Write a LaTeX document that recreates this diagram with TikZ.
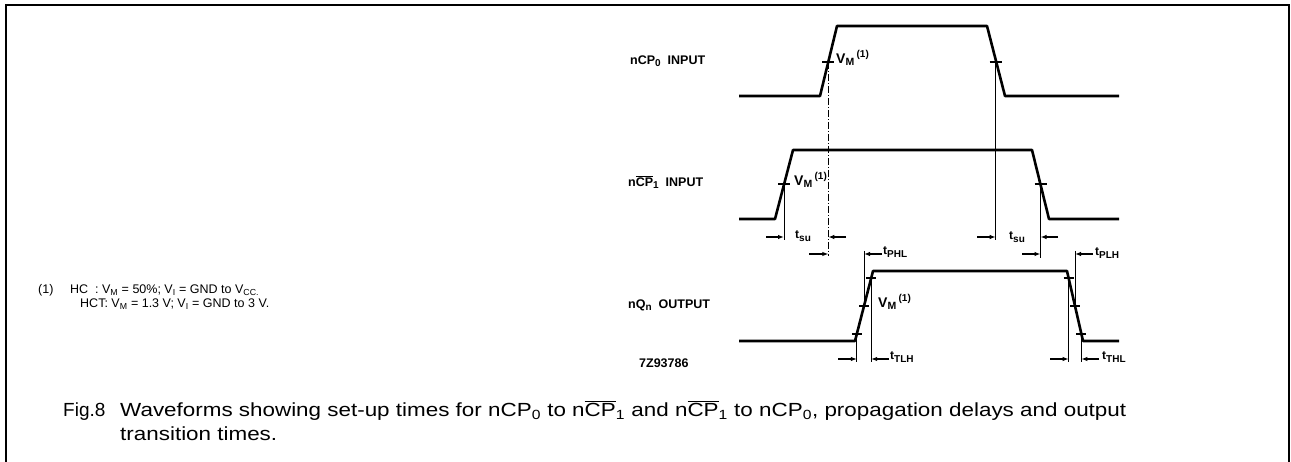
\documentclass[tikz,border=0pt]{standalone}
\usepackage{fontspec}
\usepackage{graphicx}
\setmainfont{Liberation Sans}
\usetikzlibrary{arrows.meta}
\newcommand{\mysb}[2][7.5]{\raisebox{-2.5pt}{\fontsize{#1}{#1}\selectfont #2}}
\newcommand{\myov}[1]{$\overline{\mbox{#1}}$}
\newcommand{\vmlabel}{V\mysb[10.5]{M}\,\raisebox{6pt}{\fontsize{10}{10}\selectfont (1)}}
\begin{document}
\begin{tikzpicture}[x=1pt,y=-1pt,
  wave/.style={line width=2.6pt, line join=round},
  guide/.style={line width=0.8pt},
  dguide/.style={line width=0.8pt, dash pattern=on 7pt off 2pt on 1pt off 2pt},
  vtick/.style={line width=1.3pt},
  marr/.style={-{Latex[length=6pt,width=4.5pt]}, line width=1.1pt},
  lbl/.style={font=\fontsize{12.5}{14}\selectfont\bfseries, inner sep=0pt, anchor=west},
  vlbl/.style={font=\fontsize{14}{16}\selectfont\bfseries, inner sep=0pt, anchor=west},
  tlbl/.style={font=\fontsize{12}{14}\selectfont\bfseries, inner sep=0pt, anchor=west},
  notetext/.style={font=\fontsize{12.5}{14}\selectfont, inner sep=0pt, anchor=base west},
  captext/.style={font=\fontsize{19}{22}\selectfont, inner sep=0pt, anchor=base west}]
\useasboundingbox (0,0) rectangle (1291,462);
% frame
\draw[line width=1.6pt] (6,470) -- (6,5) -- (1289,5) -- (1289,470);

% ---------- nCP0 ----------
\coordinate (a0) at (739,96);  \coordinate (a1) at (820,96);
\coordinate (a2) at (837,26);  \coordinate (a3) at (987,26);
\coordinate (a4) at (1005,96); \coordinate (a5) at (1119,96);
\draw[wave] (a0) -- (a1) -- (a2) -- (a3) -- (a4) -- (a5);
\coordinate (am1) at (828.3,62); \coordinate (am2) at (995.7,62);
\draw[vtick] ([xshift=-6pt]am1) -- ([xshift=6pt]am1);
\draw[vtick] ([xshift=-6pt]am2) -- ([xshift=6pt]am2);
\node[lbl] (l0) at (630,61) {nCP\mysb[10]{0}\ \ INPUT};
\node[vlbl] (v0) at (836,58) {\vmlabel};

% ---------- nCP1bar ----------
\coordinate (b0) at (739,219);  \coordinate (b1) at (775,219);
\coordinate (b2) at (793,150);  \coordinate (b3) at (1032,150);
\coordinate (b4) at (1049,219); \coordinate (b5) at (1119,219);
\draw[wave] (b0) -- (b1) -- (b2) -- (b3) -- (b4) -- (b5);
\coordinate (bm1) at (784,184); \coordinate (bm2) at (1040.5,184);
\draw[vtick] ([xshift=-6pt]bm1) -- ([xshift=6pt]bm1);
\draw[vtick] ([xshift=-6pt]bm2) -- ([xshift=6pt]bm2);
\node[lbl] (l1) at (628,182) {n\myov{CP}\mysb[10]{1}\ \ INPUT};
\node[vlbl] (v1) at (794,180) {\vmlabel};

% ---------- nQn ----------
\coordinate (c0) at (739,341);  \coordinate (c1) at (855,341);
\coordinate (c2) at (873,271);  \coordinate (c3) at (1067,271);
\coordinate (c4) at (1083,341); \coordinate (c5) at (1119,341);
\draw[wave] (c0) -- (c1) -- (c2) -- (c3) -- (c4) -- (c5);
\coordinate (cl1) at (856.8,334); \coordinate (cm1) at (864,306); \coordinate (ch1) at (871.2,278);
\coordinate (ch2) at (1068.6,278); \coordinate (cm2) at (1075,306); \coordinate (cl2) at (1081.4,334);
\foreach \p in {cl1,cm1,ch1,ch2,cm2,cl2}
  \draw[vtick] ([xshift=-5pt]\p) -- ([xshift=5pt]\p);
\node[lbl] (l2) at (628,305) {nQ\mysb[10]{n}\ \ OUTPUT};
\node[vlbl] (v2) at (878,302) {\vmlabel};
\node[lbl, font=\fontsize{12.5}{13}\selectfont\bfseries] (id) at (639,363) {7Z93786};

% ---------- guide lines ----------
\coordinate (g1) at (828.3,256);
\draw[dguide] (am1) -- (g1);
\coordinate (g2) at (995.7,240);
\draw[guide] (am2) -- (g2);
\coordinate (g3) at (784,240);
\draw[guide] (bm1) -- (g3);
\coordinate (g4) at (1040.5,258);
\draw[guide, line width=1.2pt] (bm2) -- (g4);
\coordinate (g5t) at (864,251);
\draw[guide] (g5t) -- (cm1);
\coordinate (g6t) at (1075,251);
\draw[guide] (g6t) -- (cm2);
\coordinate (g7) at (856.8,362); \draw[guide] (cl1) -- (g7);
\coordinate (g8) at (871.2,362); \draw[guide] (ch1) -- (g8);
\coordinate (g9) at (1068.6,362); \draw[guide] (ch2) -- (g9);
\coordinate (g10) at (1081.4,362); \draw[guide] (cl2) -- (g10);

% ---------- dimension arrows ----------
% t_su left
\coordinate (s1a) at (766,237); \coordinate (s1b) at (784,237);
\coordinate (s1c) at (846,237); \coordinate (s1d) at (828.3,237);
\draw[marr] (s1a) -- (s1b); \draw[marr] (s1c) -- (s1d);
\node[tlbl] (tsu1) at (795,236) {t\mysb[10]{su}};
% t_su right
\coordinate (s2a) at (977,237); \coordinate (s2b) at (995.7,237);
\coordinate (s2c) at (1058,237); \coordinate (s2d) at (1040.5,237);
\draw[marr] (s2a) -- (s2b); \draw[marr] (s2c) -- (s2d);
\node[tlbl] (tsu2) at (1009,237) {t\mysb[10]{su}};
% t_PHL
\coordinate (p1a) at (809,254); \coordinate (p1b) at (828.3,254);
\coordinate (p1c) at (882,254); \coordinate (p1d) at (864,254);
\draw[marr] (p1a) -- (p1b); \draw[marr] (p1c) -- (p1d);
\node[tlbl] (tphl) at (883,252) {t\mysb[10]{PHL}};
% t_PLH
\coordinate (p2a) at (1022,254); \coordinate (p2b) at (1040.5,254);
\coordinate (p2c) at (1093,254); \coordinate (p2d) at (1075,254);
\draw[marr] (p2a) -- (p2b); \draw[marr] (p2c) -- (p2d);
\node[tlbl] (tplh) at (1095,253) {t\mysb[10]{PLH}};
% t_TLH
\coordinate (r1a) at (838,359); \coordinate (r1b) at (856.8,359);
\coordinate (r1c) at (889,359); \coordinate (r1d) at (871.2,359);
\draw[marr] (r1a) -- (r1b); \draw[marr] (r1c) -- (r1d);
\node[tlbl] (ttlh) at (890,357) {t\mysb[10]{TLH}};
% t_THL
\coordinate (r2a) at (1050,359); \coordinate (r2b) at (1068.6,359);
\coordinate (r2c) at (1099,359); \coordinate (r2d) at (1081.4,359);
\draw[marr] (r2a) -- (r2b); \draw[marr] (r2c) -- (r2d);
\node[tlbl] (tthl) at (1102,357) {t\mysb[10]{THL}};

% ---------- note ----------
\node[notetext] (n0) at (38,294) {(1)};
\node[notetext] (n1) at (70,294) {HC\ \ : V\textsubscript{M} = 50\%; V\textsubscript{I} = GND to V\textsubscript{CC.}};
\node[notetext] (n2) at (80,308) {HCT: V\textsubscript{M} = 1.3 V; V\textsubscript{I} = GND to 3 V.};

% ---------- caption ----------
\node[captext] (f0) at (63,416) {Fig.8};
\node[captext] (f1) at (120,416) {\scalebox{1.18}[1]{Waveforms showing set-up times for nCP\textsubscript{0} to n\myov{CP}\textsubscript{1} and n\myov{CP}\textsubscript{1} to nCP\textsubscript{0}, propagation delays and output}};
\node[captext] (f2) at (120,440) {\scalebox{1.18}[1]{transition times.}};
\end{tikzpicture}
\end{document}
